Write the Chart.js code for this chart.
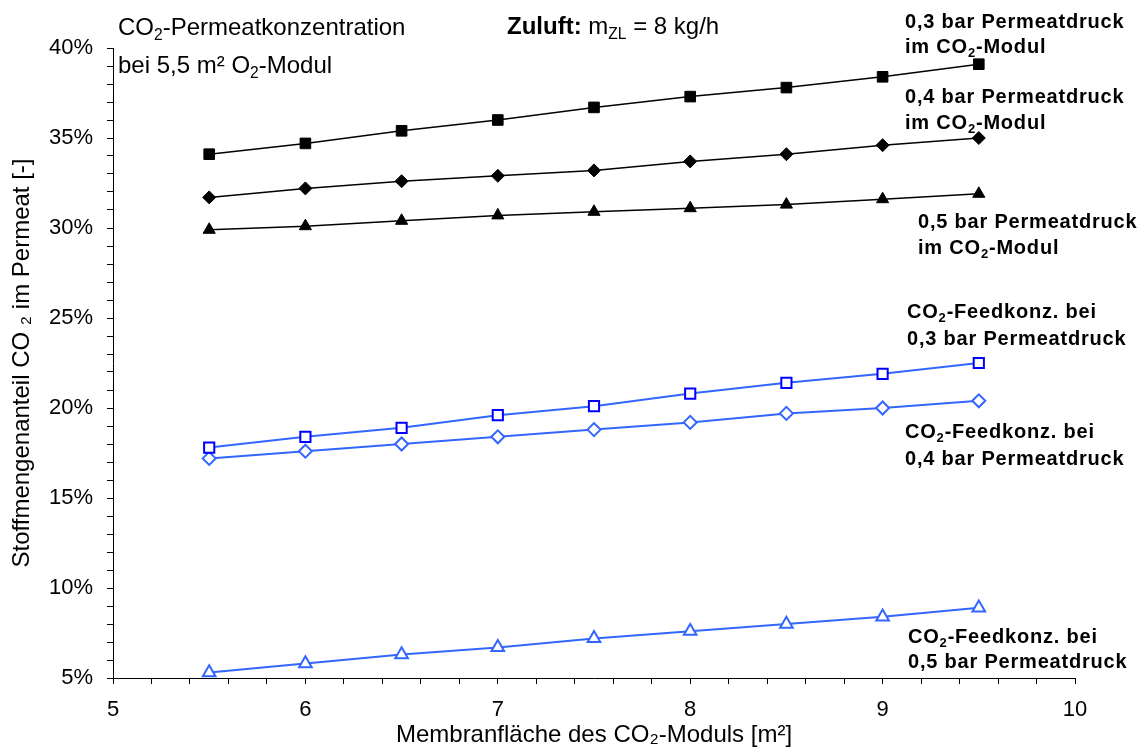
<!DOCTYPE html>
<html lang="de">
<head>
<meta charset="UTF-8">
<title>CO2-Permeatkonzentration</title>
<script src="https://cdn.jsdelivr.net/npm/chart.js@4.4.1/dist/chart.umd.min.js"></script>
<style>
  html, body { margin: 0; padding: 0; background: #fff; }
</style>
</head>
<body>
<canvas id="chart" width="1145" height="756"></canvas>
<script>
// Werte
const flaeche = [5.5, 6, 6.5, 7, 7.5, 8, 8.5, 9, 9.5];          // m²
const perm03 = [34.1, 34.7, 35.4, 36.0, 36.7, 37.3, 37.8, 38.4, 39.1];
const perm04 = [31.7, 32.2, 32.6, 32.9, 33.2, 33.7, 34.1, 34.6, 35.0];
const perm05 = [29.9, 30.1, 30.4, 30.7, 30.9, 31.1, 31.3, 31.6, 31.9];
const feed03 = [17.8, 18.4, 18.9, 19.6, 20.1, 20.8, 21.4, 21.9, 22.5];
const feed04 = [17.2, 17.6, 18.0, 18.4, 18.8, 19.2, 19.7, 20.0, 20.4];
const feed05 = [5.3, 5.8, 6.3, 6.7, 7.2, 7.6, 8.0, 8.4, 8.9];

const xMin = 5, xMax = 10, xStep = 0.2;
const yMin = 5, yMax = 40, yStep = 1, yLabelEvery = 5;

const FONT = "'Liberation Sans', Arial, Helvetica, sans-serif";
const BLUE = '#3366ff';

// Beschriftungen im Diagramm: [text, stil]  stil: b = fett, s = tiefgestellt
const labels = [
  { x: 118, y: 35, size: 24, runs: [['CO'], ['2', 's'], ['-Permeatkonzentration']] },
  { x: 118, y: 73, size: 24, runs: [['bei 5,5 m² O'], ['2', 's'], ['-Modul']] },
  { x: 507, y: 34, size: 24, runs: [['Zuluft:', 'b'], [' m'], ['ZL', 's'], [' = 8 kg/h']] },

  { x: 905, y: 28, size: 20, bold: true, sp: 0.8, runs: [['0,3 bar Permeatdruck']] },
  { x: 905, y: 53, size: 20, bold: true, sp: 0.8, runs: [['im CO'], ['2', 's'], ['-Modul']] },
  { x: 905, y: 103, size: 20, bold: true, sp: 0.8, runs: [['0,4 bar Permeatdruck']] },
  { x: 905, y: 129, size: 20, bold: true, sp: 0.8, runs: [['im CO'], ['2', 's'], ['-Modul']] },
  { x: 918, y: 228, size: 20, bold: true, sp: 0.8, runs: [['0,5 bar Permeatdruck']] },
  { x: 918, y: 254, size: 20, bold: true, sp: 0.8, runs: [['im CO'], ['2', 's'], ['-Modul']] },

  { x: 907, y: 318, size: 20, bold: true, sp: 0.8, runs: [['CO'], ['2', 's'], ['-Feedkonz. bei']] },
  { x: 907, y: 345, size: 20, bold: true, sp: 0.8, runs: [['0,3 bar Permeatdruck']] },
  { x: 905, y: 438, size: 20, bold: true, sp: 0.8, runs: [['CO'], ['2', 's'], ['-Feedkonz. bei']] },
  { x: 905, y: 465, size: 20, bold: true, sp: 0.8, runs: [['0,4 bar Permeatdruck']] },
  { x: 908, y: 643, size: 20, bold: true, sp: 0.8, runs: [['CO'], ['2', 's'], ['-Feedkonz. bei']] },
  { x: 908, y: 668, size: 20, bold: true, sp: 0.8, runs: [['0,5 bar Permeatdruck']] }
];

function drawLabel(ctx, lab) {
  let x = lab.x;
  ctx.save();
  ctx.fillStyle = '#000';
  ctx.textAlign = 'left';
  ctx.textBaseline = 'alphabetic';
  if ('letterSpacing' in ctx) ctx.letterSpacing = (lab.sp || 0) + 'px';
  for (const [txt, st = ''] of lab.runs) {
    const sub = st.includes('s');
    const bold = lab.bold || st.includes('b');
    const size = sub ? lab.size * 0.65 : lab.size;
    ctx.font = (bold ? 'bold ' : '') + size + 'px ' + FONT;
    ctx.fillText(txt, x, lab.y + (sub ? lab.size * 0.22 : 0));
    x += ctx.measureText(txt).width;
  }
  ctx.restore();
}

const textPlugin = {
  id: 'texte',
  afterDraw(chart) {
    labels.forEach(l => drawLabel(chart.ctx, l));
  }
};

function pts(arr) {
  return flaeche.map((x, i) => ({ x: x, y: arr[i] }));
}

function serie(arr, style, color, fill, radius, border) {
  return {
    data: pts(arr),
    showLine: true,
    borderColor: color === '#000' ? '#000' : BLUE,
    borderWidth: color === '#000' ? 1.5 : 2,
    pointStyle: style,
    pointRadius: radius,
    pointBackgroundColor: fill,
    pointBorderColor: border || color,
    pointBorderWidth: color === '#000' ? 1 : 2,
    tension: 0,
    clip: false
  };
}

const ticksFont = { family: FONT, size: 22 };

new Chart(document.getElementById('chart'), {
  type: 'scatter',
  data: {
    datasets: [
      serie(perm03, 'rect', '#000', '#000', 7.5),
      serie(perm04, 'rectRot', '#000', '#000', 6.5),
      serie(perm05, 'triangle', '#000', '#000', 7),
      serie(feed03, 'rect', BLUE, '#fff', 7.2, '#0000ff'),
      serie(feed04, 'rectRot', BLUE, '#fff', 6.5),
      serie(feed05, 'triangle', BLUE, '#fff', 7.3)
    ]
  },
  options: {
    responsive: false,
    animation: false,
    layout: { padding: { top: 48, right: 70, left: 0, bottom: 0 } },
    plugins: { legend: { display: false }, tooltip: { enabled: false } },
    scales: {
      x: {
        type: 'linear',
        min: xMin, max: xMax,
        ticks: {
          stepSize: xStep, autoSkip: false, maxRotation: 0, padding: 13,
          color: '#000', font: ticksFont,
          callback: v => Math.abs(v - Math.round(v)) < 1e-6 ? String(Math.round(v)) : ''
        },
        grid: { drawOnChartArea: false, color: '#000', tickColor: '#000', tickLength: 6 },
        border: { color: '#000', width: 1 },
        title: {
          display: true, text: 'Membranfläche des CO₂-Moduls [m²]',
          color: '#000', font: { family: FONT, size: 24 }, padding: { top: 0, bottom: 6 }
        },
        afterFit: s => { s.height = 78; }
      },
      y: {
        min: yMin, max: yMax,
        ticks: {
          stepSize: yStep, autoSkip: false, padding: 14,
          color: '#000', font: ticksFont,
          callback: v => (Math.round(v) % yLabelEvery === 0 ? Math.round(v) + '%' : '')
        },
        grid: { drawOnChartArea: false, color: '#000', tickColor: '#000', tickLength: 6 },
        border: { color: '#000', width: 1 },
        title: {
          display: true, text: 'Stoffmengenanteil CO ₂ im Permeat [-]',
          color: '#000', font: { family: FONT, size: 24 }, padding: { top: 8, bottom: 0 }
        },
        afterFit: s => { s.width = 113; }
      }
    }
  },
  plugins: [textPlugin]
});
</script>
</body>
</html>
